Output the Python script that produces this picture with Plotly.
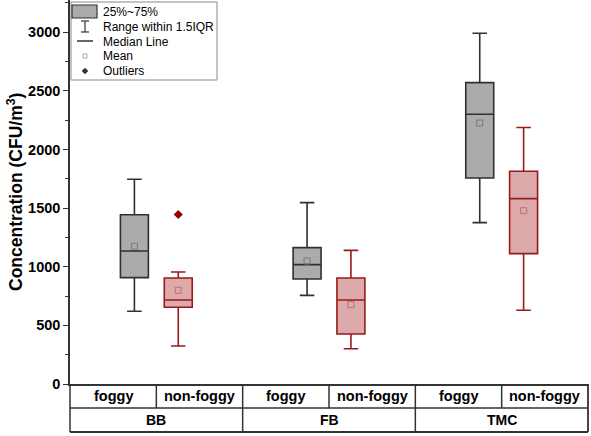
import plotly.graph_objects as go

groups = ["BB", "FB", "TMC"]
conditions = ["foggy", "non-foggy"]

# Box statistics (CFU/m3)
foggy_lower = [620, 756, 1376]
foggy_q1 = [907, 896, 1757]
foggy_median = [1134, 1018, 2300]
foggy_q3 = [1444, 1163, 2570]
foggy_upper = [1746, 1547, 2991]
foggy_mean = [1175, 1049, 2226]

nonfoggy_lower = [324, 301, 629]
nonfoggy_q1 = [654, 426, 1112]
nonfoggy_median = [716, 717, 1581]
nonfoggy_q3 = [904, 904, 1814]
nonfoggy_upper = [955, 1140, 2187]
nonfoggy_mean = [799, 677, 1478]

outlier_group = [0]
outlier_value = [1445]

y_ticks = [0, 500, 1000, 1500, 2000, 2500, 3000]

W, H = 591, 436
L, R, T, B = 70, 3, 0, 52
PW, PH = W - L - R, H - T - B
OFF = 0.127
BW = 0.162
FONT = "Liberation Sans, Arial, sans-serif"


def px(x):
    return (x - L) / PW


def py(y):
    return (H - B - y) / PH


fig = go.Figure()
gx = list(range(len(groups)))
fx = [g - OFF for g in gx]
nx = [g + OFF for g in gx]

fig.add_trace(go.Box(
    x=fx, q1=foggy_q1, median=foggy_median, q3=foggy_q3,
    lowerfence=foggy_lower, upperfence=foggy_upper,
    width=BW, whiskerwidth=0.52, fillcolor="#ababab",
    line=dict(color="#303030", width=1.6), boxpoints=False,
    showlegend=False, hoverinfo="skip"))
fig.add_trace(go.Box(
    x=nx, q1=nonfoggy_q1, median=nonfoggy_median, q3=nonfoggy_q3,
    lowerfence=nonfoggy_lower, upperfence=nonfoggy_upper,
    width=BW, whiskerwidth=0.52, fillcolor="#dcaaaa",
    line=dict(color="#9a1a1a", width=1.6), boxpoints=False,
    showlegend=False, hoverinfo="skip"))
fig.add_trace(go.Scatter(
    x=fx, y=foggy_mean, mode="markers", showlegend=False,
    marker=dict(symbol="square-open", size=6, color="#7a7a7a", line=dict(width=1))))
fig.add_trace(go.Scatter(
    x=nx, y=nonfoggy_mean, mode="markers", showlegend=False,
    marker=dict(symbol="square-open", size=6, color="#c07070", line=dict(width=1))))
fig.add_trace(go.Scatter(
    x=[g + OFF for g in outlier_group], y=outlier_value, mode="markers",
    showlegend=False,
    marker=dict(symbol="diamond", size=7, color="#8b0000")))

shapes = []
ann = []
LC = "#333333"


def line(x0, y0, x1, y1, w=1.5):
    shapes.append(dict(type="line", xref="paper", yref="paper",
                       x0=px(x0), y0=py(y0), x1=px(x1), y1=py(y1),
                       line=dict(color=LC, width=w)))


# table below the axis
line(70, 408, 588, 408)
line(70, 432, 588, 432, 1.8)
line(588, 384, 588, 432, 1.8)
line(70, 384, 70, 432)
for g in range(len(groups)):
    xs = 70 + g * PW / 3
    if g > 0:
        line(xs, 384, xs, 432)
    line(xs + PW / 6, 384, xs + PW / 6, 408)
    ann.append(dict(x=px(xs + PW / 6), y=py(420), xref="paper", yref="paper",
                    text=groups[g], showarrow=False, xanchor="center",
                    yanchor="middle",
                    font=dict(size=14, color="black", weight="bold")))
    for c in range(2):
        ann.append(dict(x=px(xs + PW / 12 + c * PW / 6), y=py(396),
                        xref="paper", yref="paper", xanchor="center",
                        yanchor="middle",
                        text=conditions[c], showarrow=False,
                        font=dict(size=14.5, color="black", weight="bold")))

# legend
shapes.append(dict(type="rect", xref="paper", yref="paper",
                   x0=px(71), y0=py(80), x1=px(217), y1=py(2),
                   line=dict(color="#888888", width=1), fillcolor="white"))
shapes.append(dict(type="rect", xref="paper", yref="paper",
                   x0=px(72), y0=py(18), x1=px(97), y1=py(5),
                   line=dict(color="#333333", width=1.2), fillcolor="#ababab"))
line(85, 21, 85, 32, 1.2)
line(81, 21, 89, 21, 1.2)
line(81, 32, 89, 32, 1.2)
line(77, 41, 93, 41, 1.5)
shapes.append(dict(type="rect", xref="paper", yref="paper",
                   x0=px(83), y0=py(58), x1=px(87), y1=py(54),
                   line=dict(color="#aaaaaa", width=1), fillcolor="white"))
shapes.append(dict(type="path", xref="paper", yref="paper",
                   path="M %f %f L %f %f L %f %f L %f %f Z" % (
                       px(85), py(68), px(88), py(71), px(85), py(74), px(82), py(71)),
                   line=dict(color="#333333", width=0.5), fillcolor="#333333"))
for i, t in enumerate(["25%~75%", "Range within 1.5IQR", "Median Line", "Mean", "Outliers"]):
    ann.append(dict(x=px(101), y=py(12 + 14.8 * i), xref="paper", yref="paper",
                    text=t, showarrow=False, xanchor="left", yanchor="middle",
                    font=dict(size=12, color="black")))

# y title
ann.append(dict(x=px(15), y=0.5, xref="paper", yref="paper",
                xanchor="center", yanchor="middle",
                text="Concentration (CFU/m<sup>3</sup>)", textangle=-90,
                showarrow=False, font=dict(size=17.5, color="black", weight="bold")))

fig.update_layout(
    width=W, height=H, margin=dict(l=L, r=R, t=T, b=B),
    paper_bgcolor="white", plot_bgcolor="white",
    font=dict(family=FONT, color="black"),
    boxmode="overlay", shapes=shapes, annotations=ann,
    xaxis=dict(range=[-0.5, 2.5], showticklabels=False, showgrid=False,
               zeroline=False, showline=True, linecolor=LC, linewidth=1.5,
               ticks=""),
    yaxis=dict(range=[0, 3275], tickvals=y_ticks, showgrid=False, zeroline=False,
               showline=True, linecolor=LC, linewidth=1.5, ticks="outside",
               ticklen=5, tickwidth=1.2, tickcolor=LC,
               minor=dict(dtick=250, ticks="outside", ticklen=3, tickcolor=LC),
               tickfont=dict(size=14.5, color="black", weight="bold")),
)
fig.write_html("out.html", config={"displayModeBar": False},
               post_script="document.body.style.margin='0px';document.body.style.overflow='hidden';")
